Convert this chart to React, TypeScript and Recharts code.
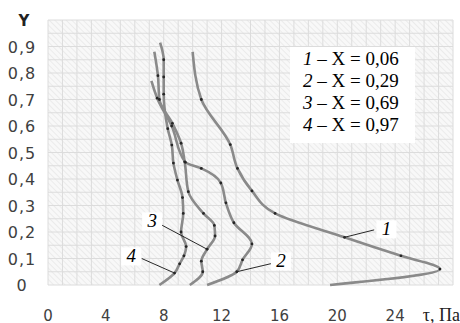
import {
  CartesianGrid,
  Line,
  LineChart,
  ReferenceDot,
  ReferenceLine,
  XAxis,
  YAxis
} from "recharts";

// shear stress τ (Па) against height Y, one profile per X position
const curve1Tau = [19.5, 27.1, 24.4, 20.5, 15.7, 14.1, 13.1, 12.6, 10.6, 10.0];
const curve1Y = [0, 0.06, 0.11, 0.18, 0.27, 0.355, 0.44, 0.53, 0.7, 0.88];

const curve2Tau = [11.0, 13.05, 13.45, 14.1, 12.85, 12.3, 11.95, 10.6, 9.5, 8.55, 7.55, 7.15];
const curve2Y = [0, 0.05, 0.095, 0.155, 0.235, 0.31, 0.385, 0.44, 0.463, 0.6, 0.705, 0.77];

const curve3Tau = [9.8, 10.7, 10.6, 11.0, 11.55, 11.5, 10.75, 9.7, 9.45, 9.2, 8.6, 7.7, 7.6, 7.35];
const curve3Y = [0, 0.05, 0.09, 0.135, 0.185, 0.225, 0.27, 0.352, 0.465, 0.535, 0.61, 0.7, 0.79, 0.88];

const curve4Tau = [7.7, 8.75, 9.1, 9.4, 9.55, 9.2, 9.35, 9.3, 8.95, 8.67, 8.56, 8.28, 8.0, 8.0, 8.0, 7.75];
const curve4Y = [0, 0.045, 0.08, 0.11, 0.145, 0.2, 0.27, 0.33, 0.396, 0.46, 0.528, 0.59, 0.72, 0.785, 0.85, 0.915];

const legendNames = ["1", "2", "3", "4"];
const legendX = ["0,06", "0,29", "0,69", "0,97"];

const tauTicks = [0, 4, 8, 12, 16, 20, 24, 28];
const yTicks = [0, 0.1, 0.2, 0.3, 0.4, 0.5, 0.6, 0.7, 0.8, 0.9, 1];

// fine grid: every 1 Па and every 0.05 of Y
const tauGrid = Array.from({ length: 29 }, (_, i) => i);
const yGrid = Array.from({ length: 21 }, (_, i) => i * 0.05);

// callouts: label position and the curve point it points at
const calloutNames = ["1", "2", "3", "4"];
const calloutTau = [23.4, 16.1, 7.2, 5.75];
const calloutY = [0.21, 0.089, 0.24, 0.108];
const calloutEndTau = [22.55, 15.45, 7.87, 6.48];
const calloutEndY = [0.208, 0.081, 0.226, 0.1];
const calloutPointTau = [20.5, 13.05, 11.0, 8.75];
const calloutPointY = [0.18, 0.05, 0.135, 0.045];

const toPoints = (tau: number[], y: number[]) =>
  tau.map((t, i) => ({ tau: t, y: y[i] }));

const series = [
  { name: "1", data: toPoints(curve1Tau, curve1Y) },
  { name: "2", data: toPoints(curve2Tau, curve2Y) },
  { name: "3", data: toPoints(curve3Tau, curve3Y) },
  { name: "4", data: toPoints(curve4Tau, curve4Y) }
];

const serif = "'Liberation Serif', 'Times New Roman', serif";
const sans = "'DejaVu Sans', sans-serif";

function TauTick(props: any) {
  const { x, y, payload } = props;
  if (payload.value === 28) {
    return (
      <text x={x + 7} y={y + 36} textAnchor="end" fontFamily={serif} fontSize={18} fill="#222">
        τ, Па
      </text>
    );
  }
  return (
    <text x={x} y={y + 36} textAnchor="middle" fontFamily={sans} fontSize={15} fill="#404040">
      {payload.value}
    </text>
  );
}

function YTick(props: any) {
  const { x, y, payload } = props;
  if (payload.value === 1) {
    return (
      <text x={x - 24} y={y + 6} textAnchor="middle" fontFamily={sans} fontWeight="bold" fontSize={15} fill="#222">
        Y
      </text>
    );
  }
  const label = String(Math.round(payload.value * 10) / 10).replace(".", ",");
  return (
    <text
      x={x - 26}
      y={y + 6}
      textAnchor="middle"
      fontFamily={sans}
      fontSize={16}
      letterSpacing={1}
      fill="#404040"
    >
      {label}
    </text>
  );
}

const makeDot = (name: string, count: number) => (props: any) => {
  const { cx, cy, index } = props;
  if (index === 0 || index === count - 1) return <g key={`${name}-${index}`} />;
  return <circle key={`${name}-${index}`} cx={cx} cy={cy} r={1.4} fill="#262626" />;
};

function CalloutLabel(props: any) {
  const { cx, cy, text } = props;
  return (
    <g>
      <rect x={cx - 10} y={cy - 9} width={20} height={18} fill="#fff" />
      <text
        x={cx}
        y={cy + 6}
        textAnchor="middle"
        fontFamily={serif}
        fontStyle="italic"
        fontSize={19}
        fill="#000"
      >
        {text}
      </text>
    </g>
  );
}

export default function App() {
  return (
    <div style={{ position: "absolute", left: 0, top: 0, width: 460, height: 323, background: "#fff" }}>
      <LineChart width={460} height={323} margin={{ top: 20, right: 7, bottom: 0, left: 0 }}>
        <defs>
          <pattern id="hatch" width="4" height="4" patternUnits="userSpaceOnUse" patternTransform="rotate(-45)">
            <rect width="4" height="4" fill="#f8f8f8" />
            <line x1="0" y1="0" x2="0" y2="4" stroke="#e6e6e6" strokeWidth="1.4" />
          </pattern>
        </defs>
        <CartesianGrid
          fill="url(#hatch)"
          stroke="#dcdcdc"
          strokeWidth={1}
          verticalValues={tauGrid}
          horizontalValues={yGrid}
        />
        <XAxis
          type="number"
          dataKey="tau"
          domain={[0, 28]}
          ticks={tauTicks}
          interval={0}
          axisLine={false}
          tickLine={false}
          tickSize={0}
          tickMargin={0}
          height={38}
          tick={TauTick}
        />
        <YAxis
          type="number"
          dataKey="y"
          domain={[0, 1]}
          ticks={yTicks}
          interval={0}
          axisLine={false}
          tickLine={false}
          tickSize={0}
          tickMargin={0}
          width={48}
          tick={YTick}
        />
        {series.map(s => (
          <Line
            key={s.name}
            data={s.data}
            dataKey="y"
            type="monotoneY"
            stroke="#8a8a8a"
            strokeWidth={2.6}
            dot={makeDot(s.name, s.data.length)}
            activeDot={false}
            isAnimationActive={false}
          />
        ))}
        {calloutNames.map((name, i) => (
          <ReferenceLine
            key={`lead-${name}`}
            segment={[
              { x: calloutPointTau[i], y: calloutPointY[i] },
              { x: calloutEndTau[i], y: calloutEndY[i] }
            ]}
            stroke="#111"
            strokeWidth={0.9}
          />
        ))}
        {calloutNames.map((name, i) => (
          <ReferenceDot
            key={`label-${name}`}
            x={calloutTau[i]}
            y={calloutY[i]}
            r={0}
            shape={(p: any) => <CalloutLabel {...p} text={name} />}
          />
        ))}
      </LineChart>
      <div
        style={{
          position: "absolute",
          left: 290,
          top: 47,
          width: 125,
          height: 96,
          boxSizing: "border-box",
          padding: "1px 0 0 13px",
          background: "#fff",
          fontFamily: serif,
          fontSize: 19,
          lineHeight: "22px",
          color: "#000",
          whiteSpace: "nowrap"
        }}
      >
        {legendNames.map((n, i) => (
          <div key={n}>
            <i>{n}</i> – X = {legendX[i]}
          </div>
        ))}
      </div>
    </div>
  );
}
